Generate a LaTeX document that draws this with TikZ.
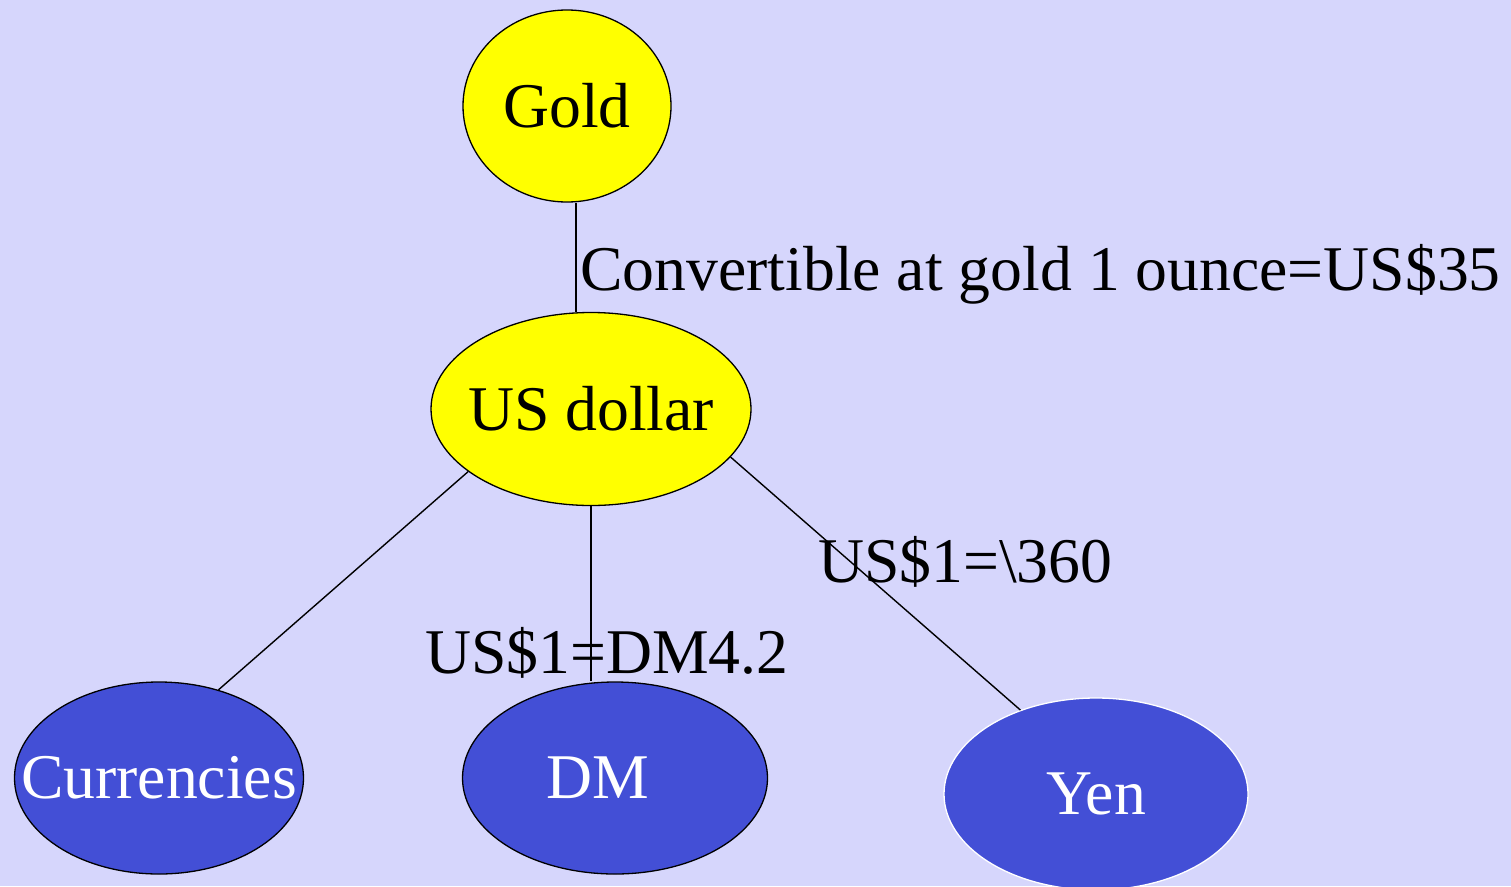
\documentclass[tikz,border=0pt]{standalone}
\usepackage{fontspec}
\setmainfont{Liberation Serif}
\usetikzlibrary{shapes.geometric}
\definecolor{bgpaper}{RGB}{214,214,252}
\definecolor{goldfill}{RGB}{255,255,0}
\definecolor{currfill}{RGB}{67,79,214}
\tikzset{
  bigtext/.style={font=\fontsize{63.7}{70}\selectfont},
  bubble/.style={ellipse, inner sep=0pt, line width=1.3pt},
  goldbubble/.style={bubble, draw=black, fill=goldfill,
    label={[bigtext, text=black]center:#1}},
  currbubble/.style={bubble, draw=black, fill=currfill,
    label={[bigtext, text=white]center:#1}},
  link/.style={draw=black, line width=1.4pt},
  rate/.style={bigtext, anchor=base west, inner sep=0pt, text=black},
}
\begin{document}
\begin{tikzpicture}[x=1pt, y=-1pt]
  % page background
  \fill[bgpaper] (0,0) rectangle (1511,886);
  \useasboundingbox (0,0) rectangle (1511,886);

  % gold and the dollar
  \node[goldbubble=Gold, minimum width=208pt, minimum height=192pt] (gold) at (567,106) {};
  \node[goldbubble=US dollar, minimum width=320pt, minimum height=193pt] (usd) at (591,409) {};

  % currencies pegged to the dollar
  \node[currbubble=Currencies, minimum width=289pt, minimum height=192pt] (cur) at (159,778) {};
  \node[bubble, draw=black, fill=currfill, minimum width=305pt, minimum height=192pt,
        label={[bigtext, text=white, xshift=-17pt]center:DM}] (dm) at (615,778) {};
  \node[currbubble=Yen, draw=white, minimum width=304pt, minimum height=192pt] (yen) at (1096,794) {};

  % links
  \draw[link] ([xshift=9pt]gold.south) -- ([xshift=-15pt]usd.north);
  \draw[link] (usd.207) -- (cur.56);
  \draw[link] (usd.south) -- (usd.south |- dm.north);
  \draw[link] (usd.-19) -- (yen.132);

  % exchange rates
  \node[rate] (lblgold) at (580,290) {Convertible at gold 1 ounce=US\$35};
  \node[rate] (lblyen) at (818,582) {US\$1=\textbackslash360};
  \node[rate] (lbldm) at (425,673) {US\$1=DM4.2};
\end{tikzpicture}
\end{document}
